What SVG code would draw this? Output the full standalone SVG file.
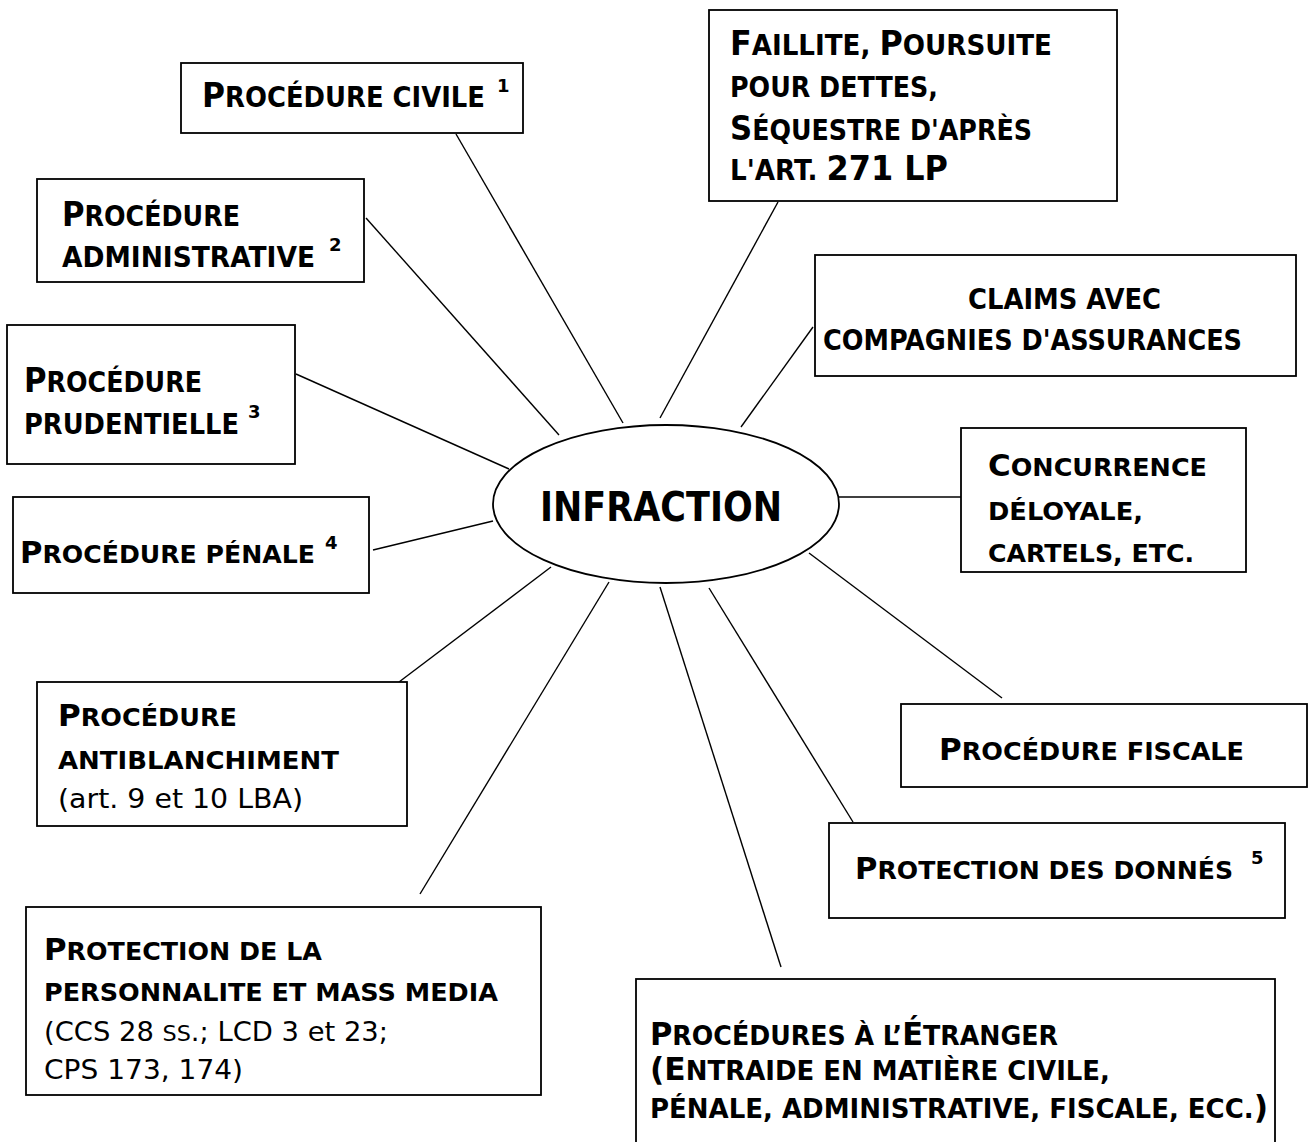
<svg xmlns="http://www.w3.org/2000/svg" width="1309" height="1142" viewBox="0 0 1309 1142">
  <style>
    .box { fill: #ffffff; stroke: #000000; stroke-width: 1.8; }
    .hub { fill: #ffffff; stroke: #000000; stroke-width: 1.8; }
    .link { stroke: #000000; stroke-width: 1.4; fill: none; }
    text { font-family: "DejaVu Sans", "Verdana", sans-serif; fill: #000000; }
    .b { font-weight: 700; }
    .r { font-weight: 400; font-size: 27px; }
    /* narrow lettering for the Tahoma-style labels */
    .t { font-family: "DejaVu Sans Condensed", "DejaVu Sans", sans-serif; font-stretch: condensed; }
    /* small-caps lettering: .c = capital, .s = reduced capital */
    .t .c { font-size: 34px; }
    .t .s { font-size: 28px; }
    .e .c { font-size: 32px; }
    .e .s { font-size: 26.5px; }
    .v .c { font-size: 31px; }
    .v .s { font-size: 25.5px; }
    .sup { font-weight: 700; font-size: 18px; }
    .ss { font-size: 22px; }
  </style>

  <!-- spokes from the central ellipse -->
  <g id="connectors">
    <line class="link" x1="456" y1="134" x2="623" y2="423"/>
    <line class="link" x1="778" y1="202" x2="660" y2="418"/>
    <line class="link" x1="366" y1="218" x2="559" y2="435"/>
    <line class="link" x1="813" y1="327" x2="741" y2="427"/>
    <line class="link" x1="296" y1="374" x2="509" y2="469"/>
    <line class="link" x1="373" y1="550" x2="493" y2="521"/>
    <line class="link" x1="839" y1="497" x2="961" y2="497"/>
    <line class="link" x1="399" y1="682" x2="551" y2="567"/>
    <line class="link" x1="420" y1="894" x2="609" y2="582"/>
    <line class="link" x1="660" y1="587" x2="781" y2="967"/>
    <line class="link" x1="709" y1="588" x2="853" y2="822"/>
    <line class="link" x1="809" y1="553" x2="1002" y2="698"/>
  </g>

  <g id="infraction">
    <ellipse class="hub" cx="666" cy="504" rx="173" ry="79"/>
    <text class="b t" x="540" y="521" font-size="40" textLength="242" lengthAdjust="spacingAndGlyphs">INFRACTION</text>
  </g>

  <g id="procedure-civile">
    <rect class="box" x="181" y="63" width="342" height="70"/>
    <text class="b t" x="202" y="107" textLength="283" lengthAdjust="spacingAndGlyphs"><tspan class="c">P</tspan><tspan class="s">ROCÉDURE CIVILE</tspan></text>
    <text class="sup" x="497" y="92">1</text>
  </g>

  <g id="faillite">
    <rect class="box" x="709" y="10" width="408" height="191"/>
    <text class="b t" x="730" y="55" textLength="322" lengthAdjust="spacingAndGlyphs"><tspan class="c">F</tspan><tspan class="s">AILLITE, </tspan><tspan class="c">P</tspan><tspan class="s">OURSUITE</tspan></text>
    <text class="b t" x="730" y="97" textLength="208" lengthAdjust="spacingAndGlyphs"><tspan class="s">POUR DETTES,</tspan></text>
    <text class="b t" x="730" y="140" textLength="302" lengthAdjust="spacingAndGlyphs"><tspan class="c">S</tspan><tspan class="s">ÉQUESTRE D'APRÈS</tspan></text>
    <text class="b t" x="730" y="180" textLength="218" lengthAdjust="spacingAndGlyphs"><tspan class="s">L'ART. </tspan><tspan class="c">271 LP</tspan></text>
  </g>

  <g id="procedure-administrative">
    <rect class="box" x="37" y="179" width="327" height="103"/>
    <text class="b t" x="62" y="226" textLength="178" lengthAdjust="spacingAndGlyphs"><tspan class="c">P</tspan><tspan class="s">ROCÉDURE</tspan></text>
    <text class="b t" x="62" y="267" textLength="253" lengthAdjust="spacingAndGlyphs"><tspan class="s">ADMINISTRATIVE</tspan></text>
    <text class="sup" x="329" y="251">2</text>
  </g>

  <g id="claims">
    <rect class="box" x="815" y="255" width="481" height="121"/>
    <text class="b t" x="968" y="309" textLength="193" lengthAdjust="spacingAndGlyphs"><tspan class="s">CLAIMS AVEC</tspan></text>
    <text class="b t" x="823" y="350" textLength="419" lengthAdjust="spacingAndGlyphs"><tspan class="s">COMPAGNIES D'ASSURANCES</tspan></text>
  </g>

  <g id="procedure-prudentielle">
    <rect class="box" x="7" y="325" width="288" height="139"/>
    <text class="b t" x="24" y="392" textLength="178" lengthAdjust="spacingAndGlyphs"><tspan class="c">P</tspan><tspan class="s">ROCÉDURE</tspan></text>
    <text class="b t" x="24" y="434" textLength="215" lengthAdjust="spacingAndGlyphs"><tspan class="s">PRUDENTIELLE</tspan></text>
    <text class="sup" x="248" y="418">3</text>
  </g>

  <g id="concurrence">
    <rect class="box" x="961" y="428" width="285" height="144"/>
    <text class="b v" x="988" y="476" textLength="219" lengthAdjust="spacingAndGlyphs"><tspan class="c">C</tspan><tspan class="s">ONCURRENCE</tspan></text>
    <text class="b v" x="988" y="520" textLength="155" lengthAdjust="spacingAndGlyphs"><tspan class="s">DÉLOYALE,</tspan></text>
    <text class="b v" x="988" y="562" textLength="206" lengthAdjust="spacingAndGlyphs"><tspan class="s">CARTELS, ETC.</tspan></text>
  </g>

  <g id="procedure-penale">
    <rect class="box" x="13" y="497" width="356" height="96"/>
    <text class="b v" x="20" y="563" textLength="295" lengthAdjust="spacingAndGlyphs"><tspan class="c">P</tspan><tspan class="s">ROCÉDURE PÉNALE</tspan></text>
    <text class="sup" x="325" y="549">4</text>
  </g>

  <g id="procedure-antiblanchiment">
    <rect class="box" x="37" y="682" width="370" height="144"/>
    <text class="b v" x="58" y="726" textLength="179" lengthAdjust="spacingAndGlyphs"><tspan class="c">P</tspan><tspan class="s">ROCÉDURE</tspan></text>
    <text class="b v" x="58" y="769" textLength="281" lengthAdjust="spacingAndGlyphs"><tspan class="s">ANTIBLANCHIMENT</tspan></text>
    <text class="r" x="58" y="808" textLength="245" lengthAdjust="spacingAndGlyphs">(art. 9 et 10 LBA)</text>
  </g>

  <g id="procedure-fiscale">
    <rect class="box" x="901" y="704" width="406" height="83"/>
    <text class="b v" x="939" y="760" textLength="305" lengthAdjust="spacingAndGlyphs"><tspan class="c">P</tspan><tspan class="s">ROCÉDURE FISCALE</tspan></text>
  </g>

  <g id="protection-donnees">
    <rect class="box" x="829" y="823" width="456" height="95"/>
    <text class="b v" x="855" y="879" textLength="378" lengthAdjust="spacingAndGlyphs"><tspan class="c">P</tspan><tspan class="s">ROTECTION DES DONNÉS</tspan></text>
    <text class="sup" x="1251" y="864">5</text>
  </g>

  <g id="protection-personnalite">
    <rect class="box" x="26" y="907" width="515" height="188"/>
    <text class="b v" x="44" y="960" textLength="278" lengthAdjust="spacingAndGlyphs"><tspan class="c">P</tspan><tspan class="s">ROTECTION DE LA</tspan></text>
    <text class="b v" x="44" y="1001" textLength="454" lengthAdjust="spacingAndGlyphs"><tspan class="s">PERSONNALITE ET MASS MEDIA</tspan></text>
    <text class="r" x="44" y="1041" textLength="344" lengthAdjust="spacingAndGlyphs">(CCS 28 <tspan class="ss">SS</tspan>.; LCD 3 et 23;</text>
    <text class="r" x="44" y="1079" textLength="199" lengthAdjust="spacingAndGlyphs">CPS 173, 174)</text>
  </g>

  <g id="procedures-etranger">
    <rect class="box" x="636" y="979" width="639" height="170"/>
    <text class="b t e" x="650" y="1045" textLength="408" lengthAdjust="spacingAndGlyphs"><tspan class="c">P</tspan><tspan class="s">ROCÉDURES À L’</tspan><tspan class="c">É</tspan><tspan class="s">TRANGER</tspan></text>
    <text class="b t e" x="650" y="1080" textLength="460" lengthAdjust="spacingAndGlyphs"><tspan class="c">(E</tspan><tspan class="s">NTRAIDE EN MATIÈRE CIVILE,</tspan></text>
    <text class="b t e" x="650" y="1118" textLength="618" lengthAdjust="spacingAndGlyphs"><tspan class="s">PÉNALE, ADMINISTRATIVE, FISCALE, ECC.</tspan><tspan class="c">)</tspan></text>
  </g>
</svg>
